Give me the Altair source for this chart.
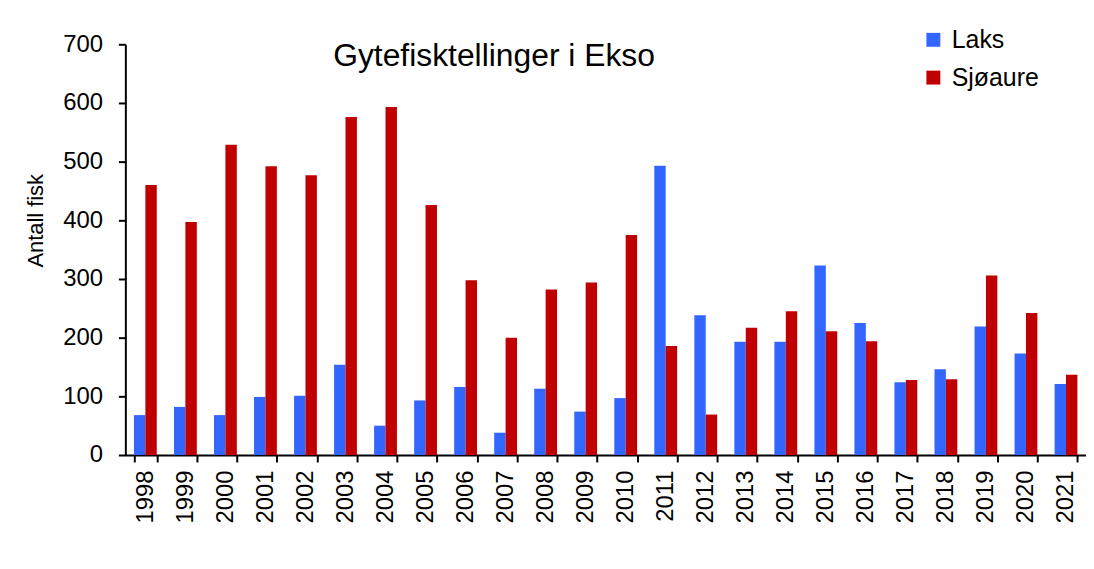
import altair as alt
import pandas as pd

years = [str(y) for y in range(1998, 2022)]
laks = [68, 82, 68, 99, 101, 154, 50, 93, 116, 38, 113, 74, 97, 493, 238, 193,
        193, 323, 225, 124, 146, 219, 173, 121]
sjoaure = [460, 397, 529, 492, 477, 576, 593, 426, 298, 200, 282, 294, 375, 186,
           69, 217, 245, 211, 194, 128, 129, 306, 242, 137]
series_names = ["Laks", "Sjøaure"]
series_colors = ["#3366FF", "#C00000"]
y_ticks = [0, 100, 200, 300, 400, 500, 600, 700]

rows = []
for i, yr in enumerate(years):
    rows.append({"year": yr, "series": series_names[0], "value": laks[i]})
    rows.append({"year": yr, "series": series_names[1], "value": sjoaure[i]})
df = pd.DataFrame(rows)

FONT = "Liberation Sans"

chart = alt.Chart(df).mark_bar().encode(
    x=alt.X(
        "year:N",
        sort=years,
        scale=alt.Scale(paddingInner=0.43, paddingOuter=0.215),
        axis=alt.Axis(
            title=None,
            labelAngle=270,
            labelAlign="right",
            labelBaseline="middle",
            labelFontSize=24,
            labelFont=FONT,
            labelColor="black",
            labelPadding=8,
            tickBand="extent",
            tickSize=7,
            tickWidth=2,
            tickColor="black",
            domainColor="black",
            domainWidth=2,
            grid=False,
        ),
    ),
    xOffset=alt.XOffset("series:N", sort=series_names),
    y=alt.Y(
        "value:Q",
        scale=alt.Scale(domain=[0, 700], nice=False),
        axis=alt.Axis(
            title="Antall fisk",
            values=y_ticks,
            grid=False,
            labelFontSize=24,
            labelFont=FONT,
            labelColor="black",
            labelPadding=16,
            tickSize=7,
            tickWidth=2,
            tickColor="black",
            domainColor="black",
            domainWidth=2,
            titleFont=FONT,
            titleFontSize=22,
            titleFontWeight="normal",
            titleColor="black",
            titleAngle=270,
            titleAlign="center",
            titleBaseline="middle",
            titleX=-90,
            titleY=177,
        ),
    ),
    color=alt.Color(
        "series:N",
        sort=series_names,
        scale=alt.Scale(domain=series_names, range=series_colors),
        legend=alt.Legend(
            title=None,
            orient="none",
            legendX=800,
            legendY=-17,
            symbolType="square",
            symbolSize=196,
            symbolStrokeWidth=0,
            labelFont=FONT,
            labelFontSize=25,
            labelColor="black",
            labelOffset=6,
            rowPadding=12,
        ),
    ),
).properties(
    width=966,
    height=413,
    title=alt.TitleParams(
        text="Gytefisktellinger i Ekso",
        anchor="start",
        orient="top",
        frame="group",
        offset=0,
        baseline="middle",
        dx=209,
        dy=61,
        font=FONT,
        fontSize=32,
        fontWeight="normal",
        color="black",
    ),
    autosize=alt.AutoSizeParams(type="none"),
    padding={"left": 118, "top": 35, "right": 0, "bottom": 90},
).configure(background="white").configure_view(stroke="transparent", strokeWidth=0)

chart.save("out.html", embed_options={"renderer": "svg", "actions": False})
